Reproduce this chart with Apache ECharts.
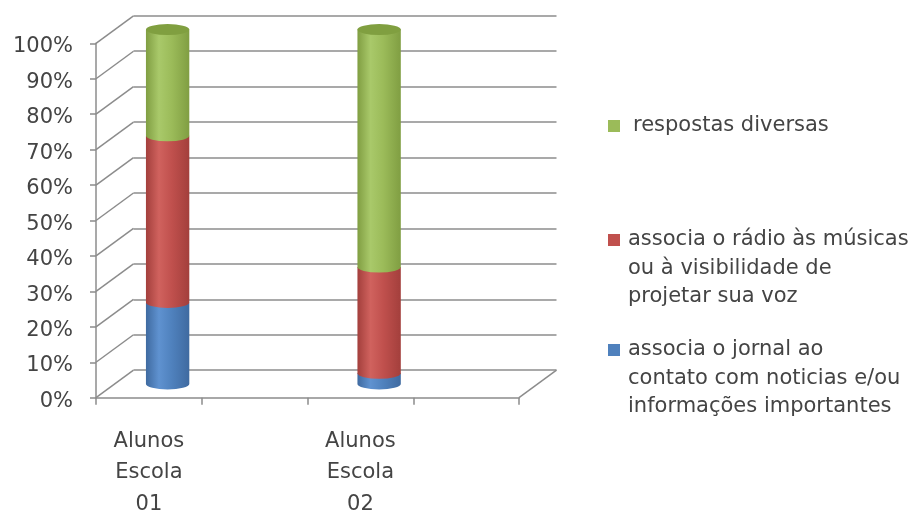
<!DOCTYPE html>
<html>
<head>
<meta charset="utf-8">
<script src="https://cdn.jsdelivr.net/npm/echarts@6/dist/echarts.min.js"></script>
<style>
  html, body { margin: 0; padding: 0; background: #fff; }
  #main { width: 914px; height: 516px; }
</style>
</head>
<body>
<div id="main"></div>
<script>
// categorias (colunas vazias entre as escolas, como no gráfico original)
var categories = ['Alunos\nEscola\n01', '', 'Alunos\nEscola\n02', ''];
var yTicks = [0, 10, 20, 30, 40, 50, 60, 70, 80, 90, 100];

// valores em %
var jornal = [23, null, 3, null];
var radio = [47, null, 30, null];
var diversas = [30, null, 67, null];

var seriesNames = [
    'associa o jornal ao\ncontato com noticias e/ou\ninformações importantes',
    'associa o rádio às músicas\nou à visibilidade de\nprojetar sua voz',
    'respostas diversas'
];

var FONT = 'DejaVu Sans';
var TXT = '#444444';
var LINE = '#8c8c8c';
var DX = 37.5, DY = -27.5;   // profundidade da "caixa" 3d

var colors = [
    {base: '#4f81bd', light: '#5f92d0', dark: '#3f6aa0', cap: '#3f6ea8'},
    {base: '#c0504d', light: '#d0625e', dark: '#a33f3c', cap: '#a84442'},
    {base: '#9bbb59', light: '#a9c96a', dark: '#809e42', cap: '#809f40'}
];

var myChart = echarts.init(document.getElementById('main'));

function stackData(list, idx) {
    var out = [];
    for (var i = 0; i < categories.length; i++) {
        if (list[idx][i] == null) continue;
        var base = 0;
        for (var k = 0; k < idx; k++) base += list[k][i] || 0;
        out.push([i, base, base + list[idx][i]]);
    }
    return out;
}

function cylinderSeries(list, idx, isTop) {
    var c = colors[idx];
    return {
        type: 'custom',
        name: seriesNames[idx],
        xAxisIndex: 2,
        yAxisIndex: 2,
        encode: {x: 0, y: [1, 2]},
        data: stackData(list, idx),
        z: 10 + idx,
        renderItem: function (params, api) {
            var p0 = api.coord([api.value(0), api.value(1)]);
            var p1 = api.coord([api.value(0), api.value(2)]);
            var w = api.size([1, 0])[0] * 0.41;
            var rx = w / 2, ry = 5.5;
            var l = p0[0] - rx, r = p0[0] + rx;
            var grad = {
                type: 'linear', x: 0, y: 0, x2: 1, y2: 0,
                colorStops: [
                    {offset: 0, color: c.dark},
                    {offset: 0.3, color: c.light},
                    {offset: 0.6, color: c.base},
                    {offset: 1, color: c.dark}
                ]
            };
            var children = [{
                type: 'path',
                shape: {
                    pathData: 'M' + l + ' ' + p1[1] + ' L' + l + ' ' + p0[1] +
                        ' A' + rx + ' ' + ry + ' 0 0 0 ' + r + ' ' + p0[1] +
                        ' L' + r + ' ' + p1[1] + ' Z'
                },
                style: {fill: grad}
            }];
            if (isTop) {
                children.push({
                    type: 'path',
                    shape: {
                        pathData: 'M' + l + ' ' + p1[1] +
                            ' A' + rx + ' ' + ry + ' 0 1 0 ' + r + ' ' + p1[1] +
                            ' A' + rx + ' ' + ry + ' 0 1 0 ' + l + ' ' + p1[1] + ' Z'
                    },
                    style: {fill: c.cap}
                });
            }
            return {type: 'group', children: children};
        }
    };
}

var dataList = [jornal, radio, diversas];

// legenda desenhada à direita (ícone alinhado com a primeira linha)
var legendItems = [
    {idx: 2, top: 126, textX: 633},
    {idx: 1, top: 240, textX: 628},
    {idx: 0, top: 350, textX: 628}
];
var graphics = [];
legendItems.forEach(function (it) {
    graphics.push({
        type: 'rect',
        left: 608, top: it.top - 6,
        shape: {width: 12, height: 12},
        style: {fill: colors[it.idx].base}
    });
    graphics.push({
        type: 'text',
        left: it.textX, top: it.top - 14.25,
        style: {
            text: seriesNames[it.idx],
            font: '21px "' + FONT + '"',
            lineHeight: 28.5,
            fill: TXT
        }
    });
});

var option = {
    backgroundColor: '#fff',
    animation: false,
    textStyle: {fontFamily: FONT},
    graphic: graphics,
    grid: [
        {left: 133.5, top: 15.8, width: 423, height: 354.4, outerBoundsMode: 'none'},   // parede do fundo
        {left: 96, top: 43.3, width: 423, height: 354.4, outerBoundsMode: 'none'},      // frente
        {left: 114.75, top: 29.55, width: 423, height: 354.4, outerBoundsMode: 'none'}, // meio (cilindros)
        {left: 96, top: 47, width: 423, height: 354.4, outerBoundsMode: 'none'}         // rótulos do eixo y
    ],
    xAxis: [
        {type: 'category', gridIndex: 0, data: categories, show: false},
        {
            type: 'category', gridIndex: 1, data: categories,
            axisLine: {lineStyle: {color: LINE, width: 1.5}},
            axisTick: {show: true, interval: 0, length: 7, lineStyle: {color: LINE, width: 1.5}},
            axisLabel: {
                interval: 0, margin: 28, color: TXT,
                fontFamily: FONT, fontSize: 21, lineHeight: 31.5
            }
        },
        {type: 'category', gridIndex: 2, data: categories, show: false},
        {type: 'category', gridIndex: 3, data: categories, show: false}
    ],
    yAxis: [
        {
            type: 'value', gridIndex: 0, min: 0, max: 100, interval: 10,
            axisLine: {show: false}, axisTick: {show: false}, axisLabel: {show: false},
            splitLine: {lineStyle: {color: LINE, width: 1.5}}
        },
        {
            type: 'value', gridIndex: 1, min: 0, max: 100, interval: 10,
            axisLine: {show: true, lineStyle: {color: LINE, width: 1.5}},
            axisTick: {show: true, length: 6, lineStyle: {color: LINE, width: 1.5}},
            splitLine: {show: false},
            axisLabel: {show: false}
        },
        {type: 'value', gridIndex: 2, min: 0, max: 100, show: false, splitLine: {show: false}},
        {
            type: 'value', gridIndex: 3, min: 0, max: 100, interval: 10,
            axisLine: {show: false}, axisTick: {show: false}, splitLine: {show: false},
            axisLabel: {
                formatter: '{value}%', margin: 23, color: TXT,
                fontFamily: FONT, fontSize: 21
            }
        }
    ],
    series: [
        {
            // diagonais da parede lateral (frente -> fundo)
            type: 'custom',
            xAxisIndex: 1, yAxisIndex: 1,
            encode: {x: 0, y: 1},
            data: yTicks.map(function (v) { return [0, v]; }),
            silent: true,
            renderItem: function (params, api) {
                var p = api.coord([0, api.value(1)]);
                var x0 = params.coordSys.x;
                return {
                    type: 'line',
                    shape: {x1: x0, y1: p[1], x2: x0 + DX, y2: p[1] + DY},
                    style: {stroke: LINE, lineWidth: 1.5}
                };
            }
        },
        {
            // aresta direita do piso
            type: 'custom',
            xAxisIndex: 1, yAxisIndex: 1,
            encode: {x: 0, y: 1},
            data: [[0, 0]],
            silent: true,
            renderItem: function (params, api) {
                var p = api.coord([0, api.value(1)]);
                var x0 = params.coordSys.x + params.coordSys.width;
                return {
                    type: 'line',
                    shape: {x1: x0, y1: p[1], x2: x0 + DX, y2: p[1] + DY},
                    style: {stroke: LINE, lineWidth: 1.5}
                };
            }
        },
        cylinderSeries(dataList, 0, false),
        cylinderSeries(dataList, 1, false),
        cylinderSeries(dataList, 2, true)
    ]
};

myChart.setOption(option);
</script>
</body>
</html>
